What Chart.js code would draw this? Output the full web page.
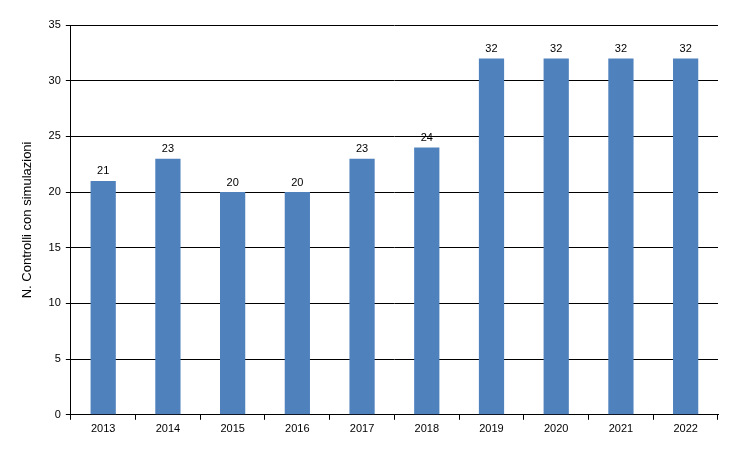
<!DOCTYPE html>
<html><head><script src="https://cdn.jsdelivr.net/npm/chart.js"></script>
<style>body{margin:0;background:#fff}#w{width:734px;height:458px}</style></head>
<body><div id="w"><canvas id="c"></canvas></div>
<script>
const categories=["2013","2014","2015","2016","2017","2018","2019","2020","2021","2022"];
const values=[21,23,20,20,23,24,32,32,32,32];
const yTicks=[0,5,10,15,20,25,30,35];
const labelPlugin={id:'lbl',afterDatasetsDraw(ch){const c=ch.ctx;const m=ch.getDatasetMeta(0);c.save();c.font='11px "Liberation Sans", Arial';c.fillStyle='#000';c.textAlign='center';c.textBaseline='bottom';m.data.forEach((b,i)=>c.fillText(values[i],b.x,b.y-4));c.restore();}};
new Chart(document.getElementById('c'),{type:'bar',data:{labels:categories,datasets:[{data:values,backgroundColor:'#4F81BD',barPercentage:0.39,categoryPercentage:1}]},
options:{responsive:true,maintainAspectRatio:false,animation:false,layout:{padding:{left:20,right:16,top:25,bottom:19}},
plugins:{legend:{display:false},tooltip:{enabled:false}},
scales:{x:{grid:{offset:true,drawOnChartArea:false,color:'#000',tickLength:5},border:{color:'#000'},ticks:{color:'#000',font:{family:'"Liberation Sans", Arial',size:11}}},
y:{min:0,max:35,afterBuildTicks(a){a.ticks=yTicks.map(v=>({value:v}));},grid:{color:'#000',tickLength:5},border:{color:'#000'},ticks:{color:'#000',padding:5,font:{family:'"Liberation Sans", Arial',size:11}},
title:{display:true,text:'N. Controlli con simulazioni',color:'#000',padding:{top:0,bottom:8},font:{family:'"Liberation Sans", Arial',size:13}}}}},plugins:[labelPlugin]});
</script></body></html>
